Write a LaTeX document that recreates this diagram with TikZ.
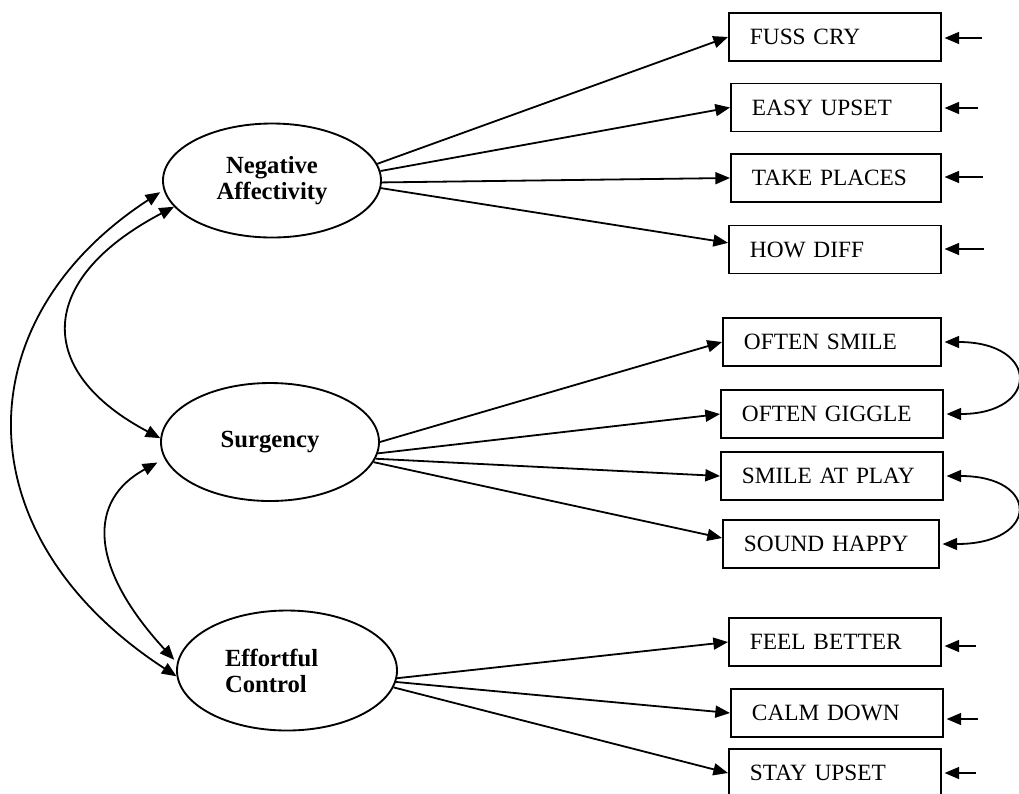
\documentclass[tikz,border=0pt]{standalone}
\usepackage{fontspec}
\setmainfont{Liberation Serif}
\usetikzlibrary{arrows.meta,shapes.geometric}

\begin{document}
\begin{tikzpicture}[x=0.75pt,y=-0.75pt,
  every node/.style={font=\fontsize{17.5}{21}\selectfont},
  latent/.style={draw, ellipse, line width=1.4pt, inner sep=0pt,
    font=\bfseries\fontsize{18.5}{19.5}\selectfont, align=center},
  ind/.style={draw, rectangle, line width=1.4pt, minimum height=36pt,
    inner xsep=15.75pt, inner ysep=0pt, align=left, anchor=west},
  load/.style={line width=1.35pt, -{Triangle[length=11pt,width=9pt]}},
  errarr/.style={line width=1.35pt, -{Triangle[length=11pt,width=9pt]}, shorten >=2pt},
  cov/.style={line width=1.35pt, {Triangle[length=11pt,width=9pt]}-{Triangle[length=11pt,width=9pt]}},
]
\useasboundingbox (0,0) rectangle (1019,793);

% latent factors
\node[latent, minimum width=163.5pt, minimum height=85.5pt] (na) at (272,180.5) {Negative\\Affectivity};
\node[latent, minimum width=163.5pt, minimum height=88.5pt] (sg) at (270,442) {Surgency};
\node[latent, minimum width=165pt, minimum height=90pt, text width=93pt, align=left] (ec) at (287,670.5) {Effortful\\Control};

% indicators
\node[ind, text width=127.5pt] (fc) at (728,37)  {FUSS CRY};
\node[ind, text width=126pt]   (eu) at (730,107.5) {EASY UPSET};
\node[ind, text width=126pt]   (tp) at (730,178) {TAKE PLACES};
\node[ind, text width=127.5pt] (hd) at (728,249.5) {HOW DIFF};
\node[ind, text width=132pt]   (os) at (722,342) {OFTEN SMILE};
\node[ind, text width=135pt]   (og) at (720,414) {OFTEN GIGGLE};
\node[ind, text width=135pt]   (sp) at (720,476) {SMILE AT PLAY};
\node[ind, text width=130.5pt] (sh) at (722,544) {SOUND HAPPY};
\node[ind, text width=127.5pt] (fb) at (728,642) {FEEL BETTER};
\node[ind, text width=127.5pt] (cd) at (730,713) {CALM DOWN};
\node[ind, text width=127.5pt] (su) at (728,773) {STAY UPSET};

% factor loadings
\draw[load] (na.9)  -- (fc.west);
\draw[load] (na.5)  -- (eu.west);
\draw[load] (na.-1) -- (tp.west);
\draw[load] (na.-4) -- ([yshift=5pt]hd.west);

\draw[load] (sg.0)   -- (os.west);
\draw[load] (sg.-6)  -- (og.west);
\draw[load] (sg.-9)  -- (sp.west);
\draw[load] (sg.-11) -- ([yshift=4.5pt]sh.west);

\draw[load] (ec.-4) -- (fb.west);
\draw[load] (ec.-6) -- (cd.west);
\draw[load] (ec.-9) -- (su.west);

% error terms
\coordinate (e1)  at (982,38);
\coordinate (e2)  at (978,108);
\coordinate (e3)  at (983,177);
\coordinate (e4)  at (984,249);
\coordinate (e9)  at (976,646);
\coordinate (e10) at (978,719);
\coordinate (e11) at (976,773);
\draw[errarr] (e1)  -- (e1 -| fc.east);
\draw[errarr] (e2)  -- (e2 -| eu.east);
\draw[errarr] (e3)  -- (e3 -| tp.east);
\draw[errarr] (e4)  -- (e4 -| hd.east);
\draw[errarr] (e9)  -- (e9 -| fb.east);
\draw[errarr] (e10) -- (e10 -| cd.east);
\draw[errarr] (e11) -- (e11 -| su.east);

% correlated errors
\draw[cov, shorten <=2pt, shorten >=2pt] (os.east) .. controls (1040,342) and (1040,414) .. (og.east);
\draw[cov, shorten <=2pt, shorten >=2pt] (sp.east) .. controls (1040,476) and (1040,544) .. (sh.east);

% factor covariances
\draw[cov, shorten <=3pt] (na.185) .. controls (-37.5,321) and (-37.5,537) .. (ec.183);
\draw[cov] (na.195) .. controls (35,280) and (35,372) .. (sg.178);
\draw[cov, shorten <=6pt, shorten >=3pt] (sg.189) .. controls (88,500) and (88,566) .. (ec.176);
\end{tikzpicture}
\end{document}
